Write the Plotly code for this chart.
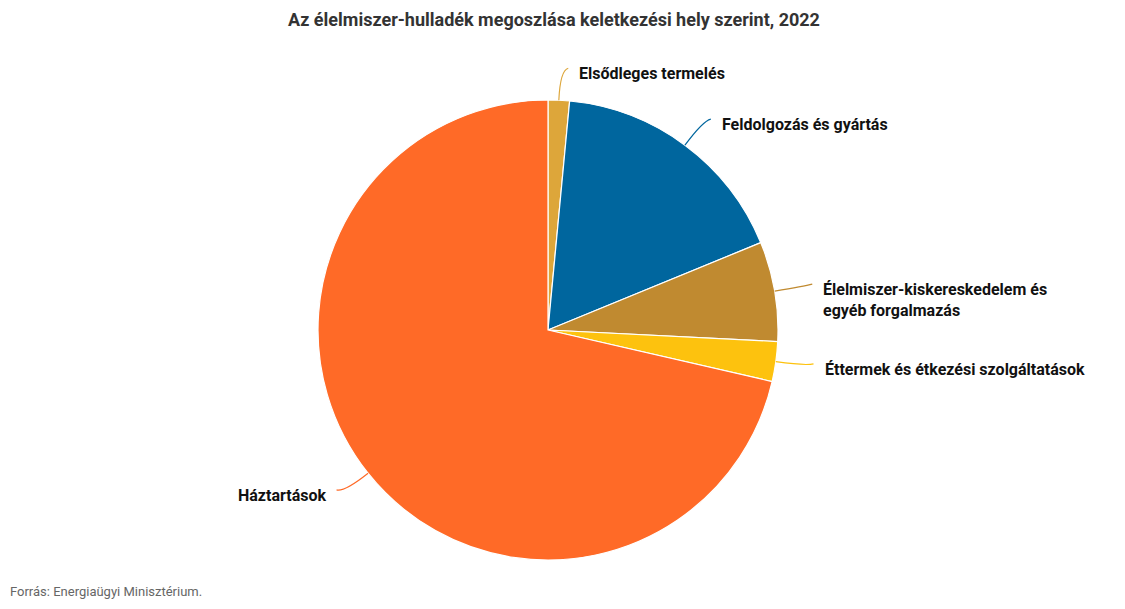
import numpy as np
import plotly.graph_objects as go

# Élelmiszer-hulladék megoszlása, 2022 (%)
labels = ["Elsődleges termelés", "Feldolgozás és gyártás",
          "Élelmiszer-kiskereskedelem és<br>egyéb forgalmazás",
          "Éttermek és étkezési szolgáltatások", "Háztartások"]
values = [1.5, 17.3, 7.0, 2.8, 71.4]
colors = ["#DDA63A", "#00669E", "#C08A30", "#FDC20E", "#FF6A27"]

# the page body has an 8px margin, so the figure is drawn 8px in from the corner
OFF = 8
W, H = 1125 - 2 * OFF, 609 - 2 * OFF
cx, cy, R = 548 - OFF, 330 - OFF, 230  # pie centre / radius in px (figure coords)

fig = go.Figure(go.Pie(
    labels=labels, values=values, sort=False, direction="clockwise", rotation=0,
    marker=dict(colors=colors, line=dict(color="white", width=1.2)),
    textinfo="none", hoverinfo="label+percent", showlegend=False,
    domain=dict(x=[(cx - R) / W, (cx + R) / W], y=[(H - cy - R) / H, (H - cy + R) / H]),
))

# leader lines + labels, placed from each slice's mid angle
def px(x, y):
    return x / W, 1 - y / H

cum = np.cumsum([0] + values[:-1])
for lab, v, c0, col in zip(labels, values, cum, colors):
    a = np.deg2rad((c0 + v / 2) / sum(values) * 360)
    dx, dy = np.sin(a), -np.cos(a)
    side = 1 if dx >= 0 else -1
    x0, y0 = cx + R * dx, cy + R * dy
    ex, ey = x0 + 30 * dx, y0 + 30 * dy
    x1, y1 = ex + 8 * side, ey - 2
    p0, pe, p1 = px(x0, y0), px(ex, ey), px(x1, y1)
    fig.add_shape(type="path", xref="paper", yref="paper",
                  path=f"M {p0[0]},{p0[1]} Q {pe[0]},{pe[1]} {p1[0]},{p1[1]}",
                  line=dict(color=col, width=1.2))
    tx, ty = px(x1 + 9 * side, y1 - 6)
    fig.add_annotation(x=tx, y=ty, xref="paper", yref="paper", text=f"<b>{lab}</b>",
                       showarrow=False, xanchor="left" if side > 0 else "right",
                       yanchor="top", align="left",
                       font=dict(family="Roboto", size=16, color="#111111"))

fig.add_annotation(x=(554 - OFF) / W, y=1 - (20 - OFF) / H, xref="paper", yref="paper",
                   text="<b>Az élelmiszer-hulladék megoszlása keletkezési hely szerint, 2022</b>",
                   showarrow=False, xanchor="center", yanchor="middle",
                   font=dict(family="Roboto", size=18, color="#333333"))
fig.add_annotation(x=0, y=0, xref="paper", yref="paper",
                   text="Forrás: Energiaügyi Minisztérium.", showarrow=False,
                   xanchor="left", yanchor="bottom",
                   font=dict(family="Roboto", size=13, color="#666666"))

fig.update_layout(width=W, height=H, margin=dict(l=0, r=0, t=0, b=0),
                  paper_bgcolor="white", plot_bgcolor="white",
                  font=dict(family="Roboto"))
fig.write_html("out.html")
